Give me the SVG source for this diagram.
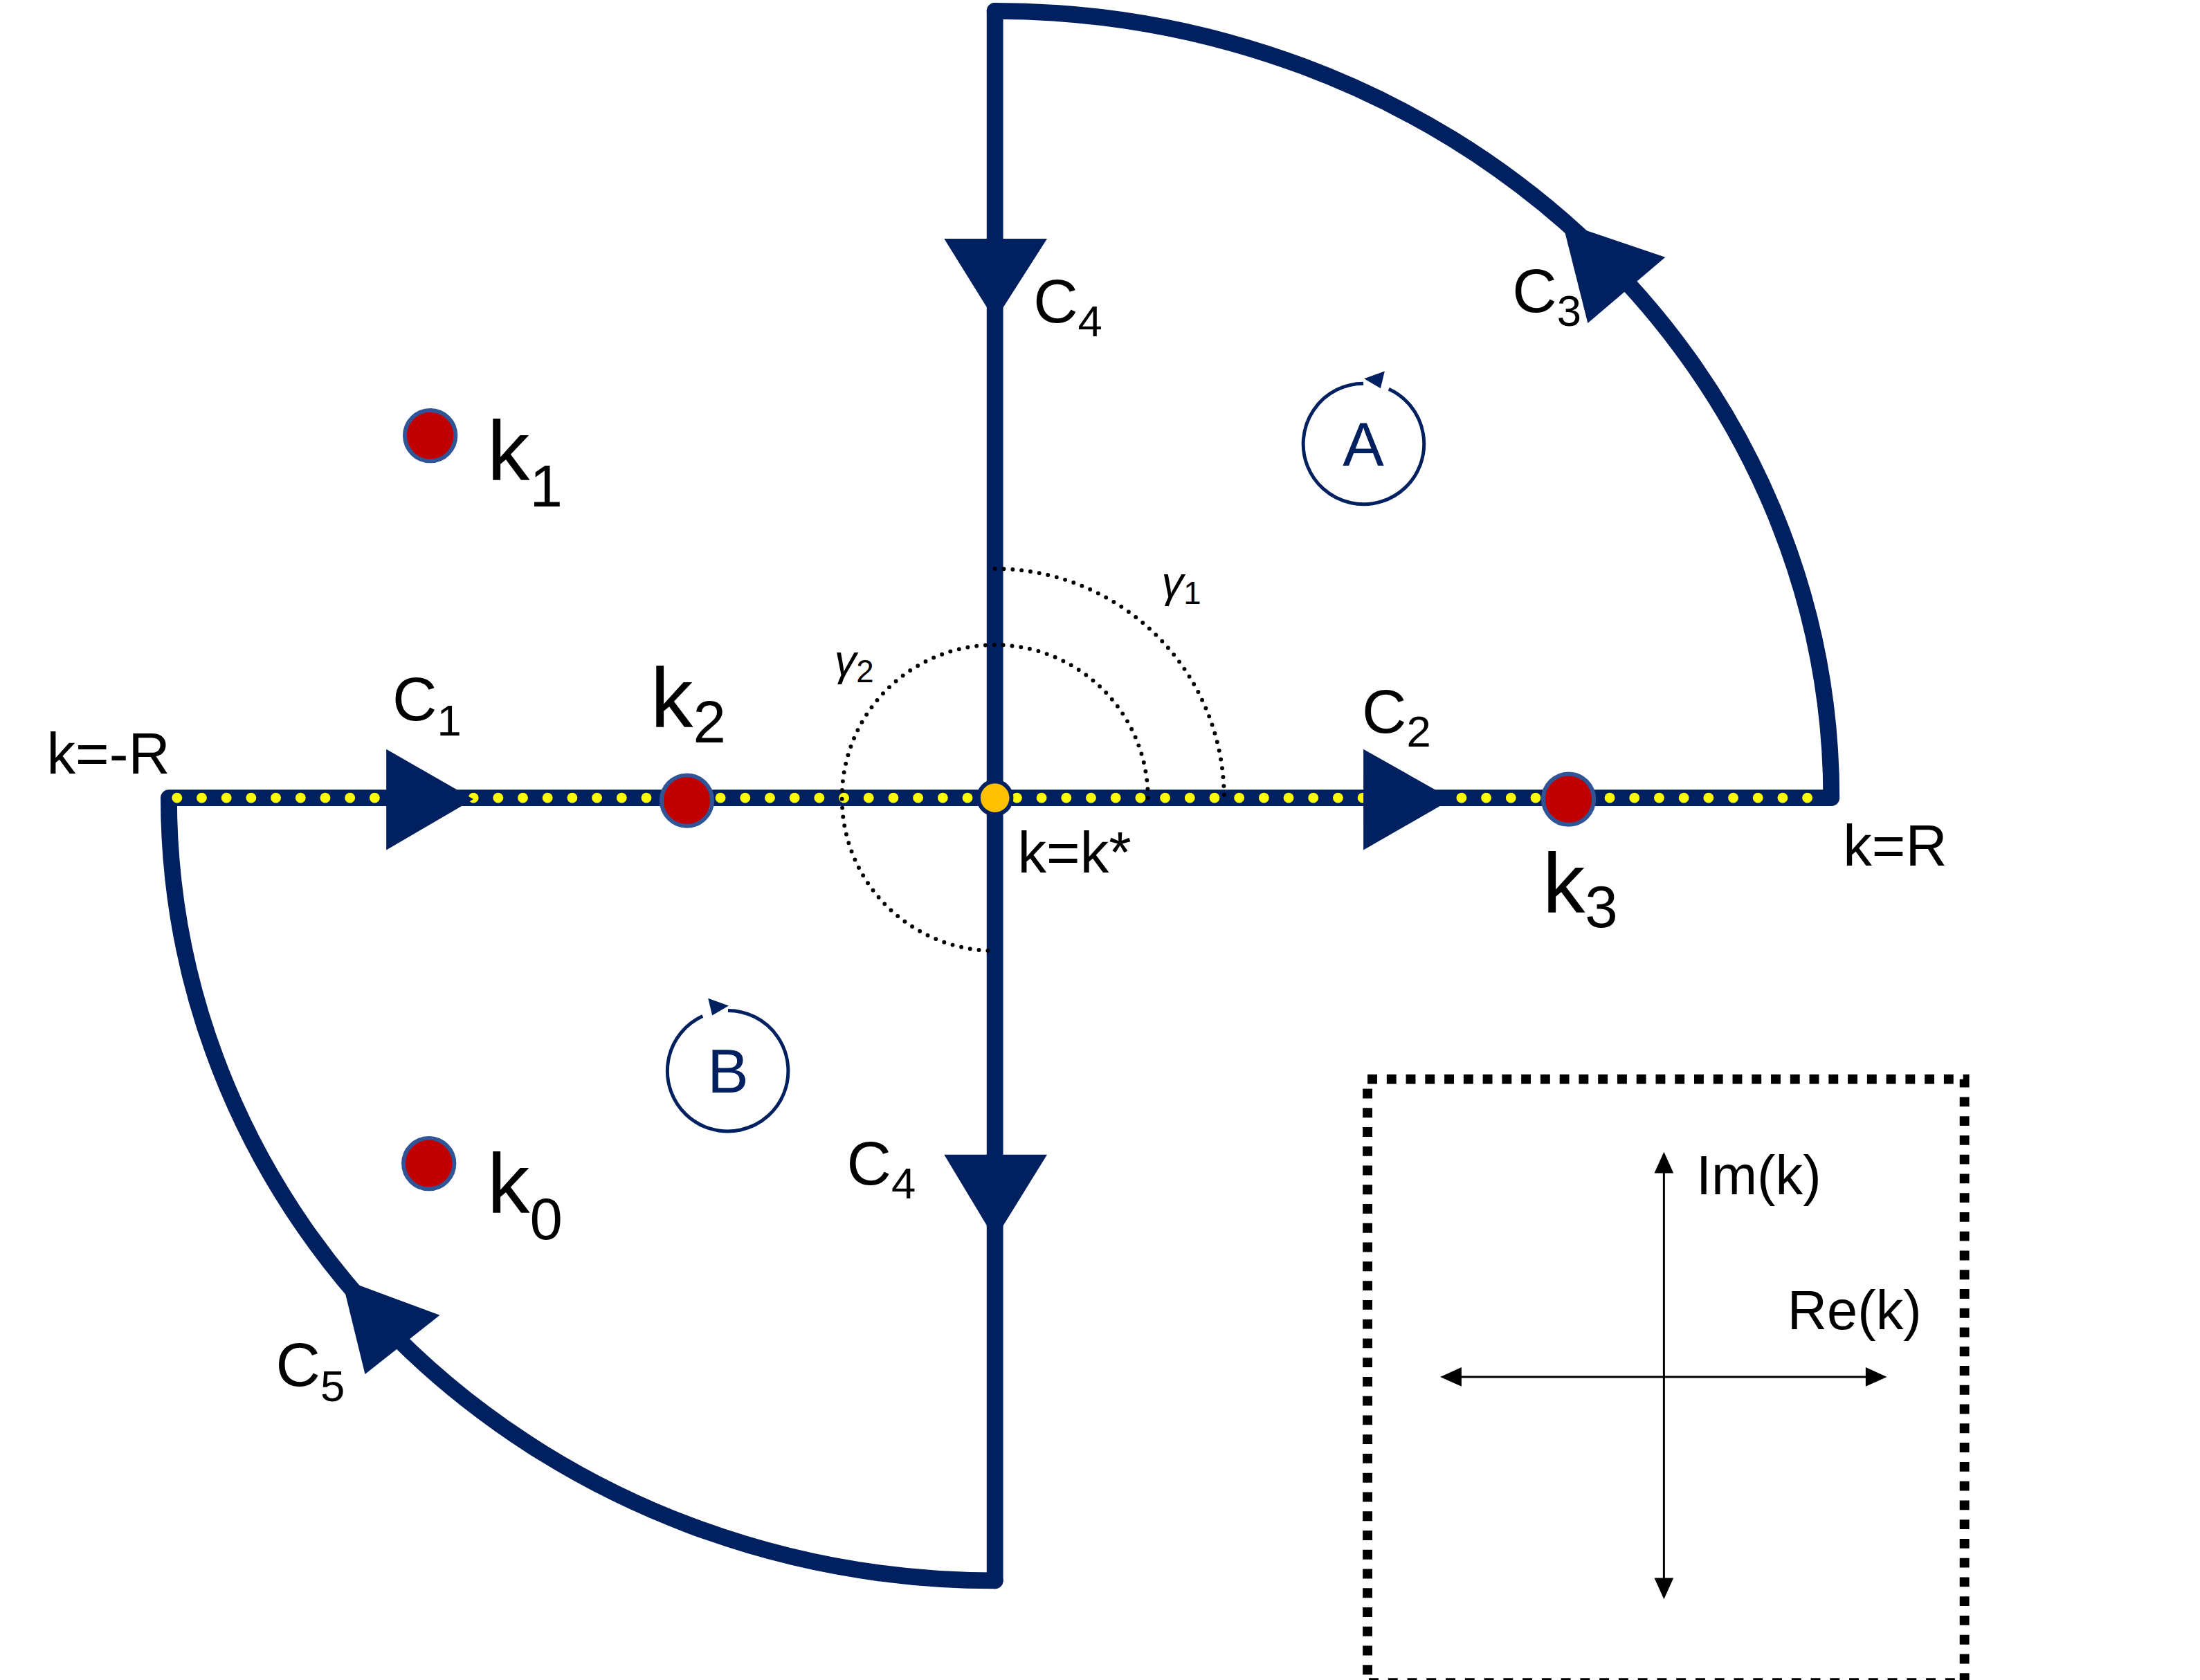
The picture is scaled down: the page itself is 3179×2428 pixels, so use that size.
<svg xmlns="http://www.w3.org/2000/svg" width="3179" height="2428" viewBox="0 0 3179 2428">
<style>
.c{fill:none;stroke:#002060;stroke-width:24;stroke-linecap:round;stroke-linejoin:round}
.ah{fill:#002060}
.y{fill:none;stroke:#FFFF00;stroke-width:15;stroke-linecap:round;stroke-dasharray:0 36}
.g{fill:none;stroke:#000;stroke-width:6;stroke-linecap:round;stroke-dasharray:0 13}
.t{font-family:"Liberation Sans",Arial,sans-serif;fill:#000}
.p{fill:#C00000;stroke:#2F5597;stroke-width:6}
</style>
<rect width="3179" height="2428" fill="#fff"/>
<g transform="scale(0.9915)">
<g id="connectors">
<path class="c" d="M1450,16 L1450,2304"/>
<path class="c" d="M1450,16 A1219,1147 0 0 1 2669,1163 L246,1163 A1204,1141 0 0 0 1450,2304"/>
<path class="y" d="M258,1163 L2660,1163"/>
<polygon class="ah" points="1376,348 1526,348 1450,467"/>
<polygon class="ah" points="1376,1683 1526,1683 1450,1806"/>
<polygon class="ah" points="563,1092 563,1239 690,1165"/>
<polygon class="ah" points="1987,1092 1987,1239 2116,1165"/>
<polygon class="ah" points="2277,324 2314,471 2427,375"/>
<polygon class="ah" points="498,1864 532,2003 641,1917"/>
<path class="g" d="M1450,829 A334,334 0 0 1 1784,1163"/>
<path class="g" d="M1673,1163 A223,223 0 1 0 1450,1386"/>
</g>
<g id="kstar"><circle cx="1450" cy="1163" r="24" fill="#FFC000" stroke="#002060" stroke-width="6"/>
<text class="t" x="1483" y="1272" font-size="84">k=k*</text></g>
<g id="k2"><circle class="p" cx="1001" cy="1167" r="37"/><text class="t" x="948" y="1060" font-size="124">k<tspan font-size="86" dy="22">2</tspan></text></g>
<g id="k3"><circle class="p" cx="2286" cy="1165" r="37"/><text class="t" x="2248" y="1330" font-size="124">k<tspan font-size="86" dy="22">3</tspan></text></g>
<g id="k1"><circle class="p" cx="627" cy="635" r="37"/><text class="t" x="710" y="700" font-size="124">k<tspan font-size="86" dy="38">1</tspan></text></g>
<g id="k0"><circle class="p" cx="625" cy="1696" r="37"/><text class="t" x="710" y="1768" font-size="124">k<tspan font-size="86" dy="38">0</tspan></text></g>
<g id="labels">
<text class="t" x="1506" y="470" font-size="90">C<tspan font-size="64" dy="20">4</tspan></text>
<text class="t" x="1234" y="1727" font-size="90">C<tspan font-size="64" dy="20">4</tspan></text>
<text class="t" x="2204" y="455" font-size="90">C<tspan font-size="64" dy="20">3</tspan></text>
<text class="t" x="572" y="1050" font-size="90">C<tspan font-size="64" dy="22">1</tspan></text>
<text class="t" x="1985" y="1068" font-size="90">C<tspan font-size="64" dy="20">2</tspan></text>
<text class="t" x="402" y="2020" font-size="90">C<tspan font-size="64" dy="22">5</tspan></text>
<text class="t" x="68" y="1128" font-size="84">k=-R</text>
<text class="t" x="2686" y="1262" font-size="84">k=R</text>
<text class="t" x="1693" y="870" font-size="64" font-style="italic" font-family="Liberation Serif,serif">γ<tspan font-size="46" dy="10" font-style="normal" font-family="Liberation Sans,sans-serif">1</tspan></text>
<text class="t" x="1216" y="984" font-size="64" font-style="italic" font-family="Liberation Serif,serif">γ<tspan font-size="46" dy="10" font-style="normal" font-family="Liberation Sans,sans-serif">2</tspan></text>
</g>
<g id="A"><path d="M1987,559 A88,88 0 1 0 2024,567" fill="none" stroke="#002060" stroke-width="5"/>
<polygon class="ah" points="1988,552 2018,541 2012,566"/>
<text x="1987" y="679" font-size="90" text-anchor="middle" font-family="Liberation Sans,sans-serif" fill="#002060">A</text></g>
<g id="B"><path d="M1061,1473 A88,88 0 1 1 1024,1481" fill="none" stroke="#002060" stroke-width="5"/>
<polygon class="ah" points="1062,1466 1032,1455 1038,1480"/>
<text x="1061" y="1593" font-size="90" text-anchor="middle" font-family="Liberation Sans,sans-serif" fill="#002060">B</text></g>
<g id="inset">
<rect x="1993" y="1573" width="870" height="880" fill="none" stroke="#000" stroke-width="14" stroke-dasharray="14 14"/>
<line x1="2425" y1="1700" x2="2425" y2="2310" stroke="#000" stroke-width="3"/>
<line x1="2120" y1="2007" x2="2730" y2="2007" stroke="#000" stroke-width="3"/>
<polygon points="2425,1679 2411,1710 2439,1710"/>
<polygon points="2425,2331 2411,2300 2439,2300"/>
<polygon points="2099,2007 2130,1993 2130,2021"/>
<polygon points="2750,2007 2719,1993 2719,2021"/>
<text class="t" x="2472" y="1741" font-size="80">Im(k)</text>
<text class="t" x="2605" y="1937" font-size="80">Re(k)</text>
</g>
</g>
</svg>
